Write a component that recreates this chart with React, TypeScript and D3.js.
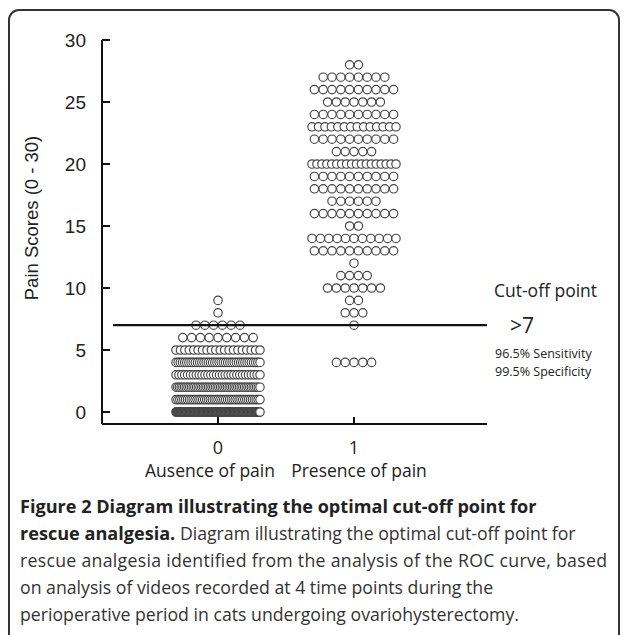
import React from "react";
import * as d3 from "d3";

const categories = ["0", "1"];
const categoryNames = ["Ausence of pain", "Presence of pain"];
const absenceScores = [0, 1, 2, 3, 4, 5, 6, 7, 8, 9];
const absenceCounts = [150, 45, 50, 30, 40, 20, 9, 6, 1, 1];
const presenceScores = [4, 7, 8, 9, 10, 11, 12, 13, 14, 15, 16, 17, 18, 19, 20, 21, 22, 23, 24, 25, 26, 27, 28];
const presenceCounts = [5, 1, 3, 2, 7, 4, 1, 10, 11, 2, 10, 6, 10, 10, 18, 5, 10, 14, 10, 7, 10, 8, 2];
const yTicks = [0, 5, 10, 15, 20, 25, 30];
const cutoff = 7;

const W = 627;
const H = 635;

export default function App() {
  const y = d3.scaleLinear().domain([0, 30]).range([412, 40]);
  const x = d3.scalePoint<string>().domain(categories).range([218, 354]);
  const axisX = 102;
  const axisY = 424;
  const axisRight = 487;
  const nameOffset = [-8, 5];

  const groups = [
    { cat: categories[0], scores: absenceScores, counts: absenceCounts },
    { cat: categories[1], scores: presenceScores, counts: presenceCounts },
  ];

  const dots: { cx: number; cy: number; key: string }[] = [];
  groups.forEach((g) => {
    const cx0 = x(g.cat)!;
    g.scores.forEach((s, si) => {
      const n = g.counts[si];
      const sp = n > 1 ? Math.min(8.8, 84 / (n - 1)) : 0;
      for (let i = 0; i < n; i++) {
        dots.push({ cx: cx0 + (i - (n - 1) / 2) * sp, cy: y(s), key: `${g.cat}-${s}-${i}` });
      }
    });
  });

  const sans = "'Liberation Sans', Arial, sans-serif";
  const cal = "'Open Sans', Lato, sans-serif";

  return (
    <svg width={W} height={H} style={{ position: "absolute", left: 0, top: 0, background: "#fff" }}>
      <rect x={9} y={10} width={610} height={660} rx={10} ry={10} fill="none" stroke="#333" strokeWidth={2} />
      {/* y axis */}
      <line x1={axisX} y1={y(30)} x2={axisX} y2={axisY} stroke="#111" strokeWidth={2} />
      {yTicks.map((t) => (
        <g key={t}>
          <line x1={axisX} x2={axisX + 8} y1={y(t)} y2={y(t)} stroke="#111" strokeWidth={2} />
          <text x={86} y={y(t)} dy="0.36em" textAnchor="end" fontFamily={sans} fontSize={19} fill="#222">
            {t}
          </text>
        </g>
      ))}
      <text
        transform={`translate(38,218) rotate(-90)`}
        textAnchor="middle"
        fontFamily={sans}
        fontSize={18.5}
        fill="#222"
      >
        Pain Scores (0 - 30)
      </text>
      {/* x axis */}
      <line x1={axisX} y1={axisY} x2={axisRight} y2={axisY} stroke="#111" strokeWidth={2} />
      {categories.map((c, i) => (
        <g key={c}>
          <line x1={x(c)!} x2={x(c)!} y1={axisY} y2={axisY - 7} stroke="#111" strokeWidth={2} />
          <text x={x(c)!} y={454} textAnchor="middle" fontFamily={cal} fontSize={18} fill="#222">
            {c}
          </text>
          <text x={x(c)! + nameOffset[i]} y={477} textAnchor="middle" fontFamily={cal} fontSize={17.5} fill="#222">
            {categoryNames[i]}
          </text>
        </g>
      ))}
      {/* dots */}
      {dots.map((d) => (
        <circle key={d.key} cx={d.cx} cy={d.cy} r={4.2} fill="#fff" stroke="#444" strokeWidth={1.15} />
      ))}
      {/* cutoff line */}
      <line x1={113} x2={axisRight} y1={y(cutoff)} y2={y(cutoff)} stroke="#111" strokeWidth={2.2} />
      <text x={494} y={297} fontFamily={cal} fontSize={17.5} fill="#222">Cut-off point</text>
      <text x={510} y={333} fontFamily={cal} fontSize={21} fill="#222">&gt;7</text>
      <text x={495} y={358} fontFamily={cal} fontSize={12.5} fill="#222">96.5% Sensitivity</text>
      <text x={495} y={376} fontFamily={cal} fontSize={12.5} fill="#222">99.5% Specificity</text>
      {/* caption */}
      <g fontFamily={cal} fontSize={17.7} fill="#222">
        <text x={20} y={513} fontWeight="bold" fontSize={18.1}>Figure 2 Diagram illustrating the optimal cut-off point for</text>
        <text x={20} y={540}>
          <tspan fontWeight="bold" fontSize={18.1}>rescue analgesia.</tspan>
          <tspan fill="#333"> Diagram illustrating the optimal cut-off point for</tspan>
        </text>
        <text x={20} y={567} fill="#333" textLength={587} lengthAdjust="spacing">rescue analgesia identified from the analysis of the ROC curve, based</text>
        <text x={20} y={594} fill="#333">on analysis of videos recorded at 4 time points during the</text>
        <text x={20} y={621} fill="#333">perioperative period in cats undergoing ovariohysterectomy.</text>
      </g>
    </svg>
  );
}
